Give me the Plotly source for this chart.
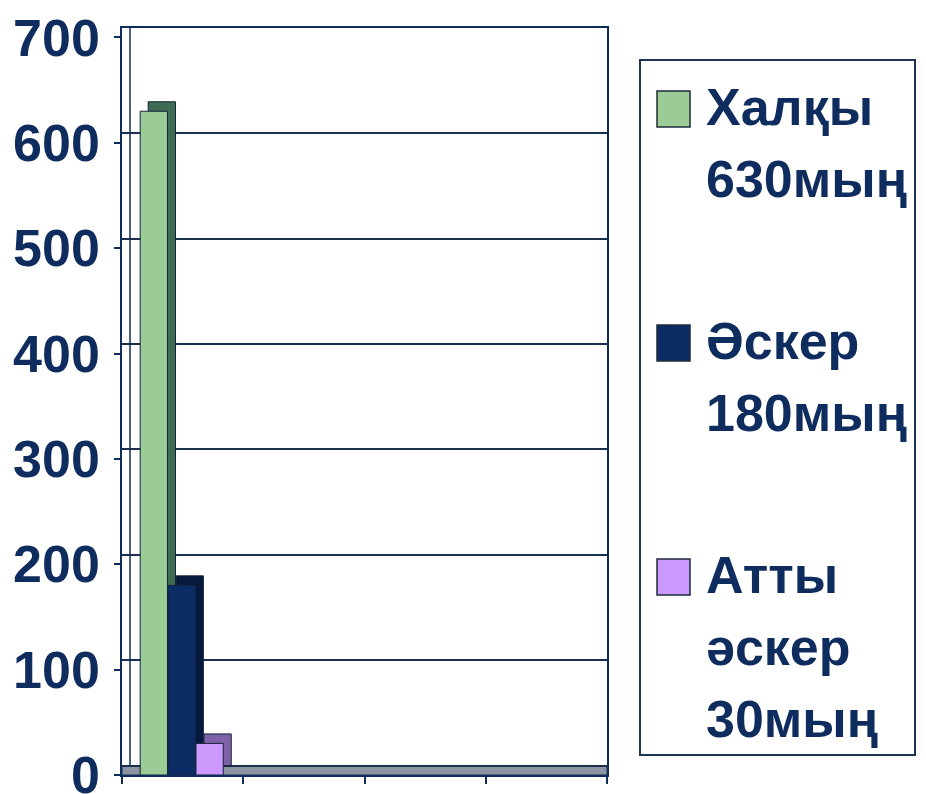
import plotly.graph_objects as go

# ---- data ----
series_names = ["Халқы 630мың", "Әскер 180мың", "Атты әскер 30мың"]
legend_lines = [["Халқы", "630мың"], ["Әскер", "180мың"], ["Атты", "әскер", "30мың"]]
series_values = [630, 180, 30]
y_ticks = [0, 100, 200, 300, 400, 500, 600, 700]
category_slots = [0, 1, 2, 3, 4]

# ---- styles ----
front_colors = ["#9CCC96", "#0C2C66", "#CC99FF"]
side_colors = ["#3E6B52", "#061A3E", "#7E62A8"]
navy = "#0F2C5E"
font_family = "Liberation Sans Narrow, Arial Narrow, Liberation Sans, Arial, sans-serif"

PAGE_OFF = 8                      # browser body margin
W, H = 926 - PAGE_OFF, 794 - PAGE_OFF
# plot area edges in screenshot pixels
L, RE, T, BE = 122, 607, 28, 775
depth_y = 9.0      # depth in y units
depth_x = 0.066    # depth in x units
bar_w = 0.225
pitch = 0.23
first_off = -0.35
ymax = y_ticks[-1] + depth_y


def pxx(x):
    return (x - L) / (RE - L)


def pyy(y):
    return (BE - y) / (BE - T)


fig = go.Figure()

# depth (side/top) faces drawn first
for i, (name, v) in enumerate(zip(series_names, series_values)):
    fig.add_trace(go.Bar(
        x=[0.5], y=[v], base=[depth_y], width=[bar_w],
        offset=first_off + i * pitch + depth_x,
        marker=dict(color=side_colors[i], line=dict(color="#13233A", width=1)),
        showlegend=False, hoverinfo="skip", xaxis="x", yaxis="y",
    ))
# front faces
for i, (name, v) in enumerate(zip(series_names, series_values)):
    fig.add_trace(go.Bar(
        x=[0.5], y=[v], width=[bar_w], name=name,
        offset=first_off + i * pitch,
        marker=dict(color=front_colors[i], line=dict(color="#13233A", width=1)),
        showlegend=False, xaxis="x", yaxis="y",
    ))

# invisible trace to activate back-wall grid axis
fig.add_trace(go.Scatter(x=[None], y=[None], xaxis="x", yaxis="y2",
                         showlegend=False, hoverinfo="skip"))

shapes = []
# floor band
shapes.append(dict(type="rect", xref="x", yref="y", x0=0, x1=category_slots[-1],
                   y0=0, y1=depth_y, fillcolor="#8A94A3",
                   line=dict(color="#1C2B44", width=1), layer="below"))
# back wall left edge
shapes.append(dict(type="line", xref="x", yref="y", x0=depth_x, x1=depth_x,
                   y0=depth_y, y1=ymax, line=dict(color=navy, width=1.5)))

# manual legend
shapes.append(dict(type="rect", xref="paper", yref="paper",
                   x0=pxx(640), x1=pxx(915), y0=pyy(755), y1=pyy(60),
                   line=dict(color="#1F3553", width=2), fillcolor="white",
                   layer="below"))
annotations = []
for i, lines in enumerate(legend_lines):
    yc = 109 + 234 * i
    shapes.append(dict(type="rect", xref="paper", yref="paper",
                       x0=pxx(657), x1=pxx(690), y0=pyy(yc + 18), y1=pyy(yc - 18),
                       fillcolor=front_colors[i], line=dict(color="#1C2B3A", width=1.5)))
    for j, txt in enumerate(lines):
        annotations.append(dict(
            text=txt, xref="paper", yref="paper", x=pxx(704), y=pyy(yc + 72 * j - 2),
            xanchor="left", yanchor="middle", showarrow=False,
            font=dict(family=font_family, size=52, color=navy, weight="bold"),
        ))

fig.update_layout(
    width=W, height=H,
    margin=dict(l=L - PAGE_OFF, r=W - (RE - PAGE_OFF), t=T - PAGE_OFF,
                b=H - (BE - PAGE_OFF), pad=0, autoexpand=False),
    paper_bgcolor="white", plot_bgcolor="white",
    barmode="overlay",
    showlegend=False,
    shapes=shapes, annotations=annotations,
    xaxis=dict(range=[category_slots[0], category_slots[-1]], tickvals=category_slots,
               showticklabels=False, ticks="outside", ticklen=7, tickcolor=navy,
               tickwidth=1.5, showgrid=False, zeroline=False, showline=True,
               linecolor=navy, linewidth=1.5, mirror=True, fixedrange=True,
               automargin=False),
    yaxis=dict(range=[0, ymax], tickvals=y_ticks, ticks="outside", ticklen=6,
               tickcolor=navy, tickwidth=1.5, showgrid=False, zeroline=False,
               showline=True, linecolor=navy, linewidth=1.5, mirror=True,
               ticklabelstandoff=4, automargin=False, ticklabeloverflow="allow",
               tickfont=dict(family=font_family, size=52, color=navy, weight="bold")),
    yaxis2=dict(range=[-depth_y, y_ticks[-1]], overlaying="y", tickvals=y_ticks,
                showticklabels=False, ticks="", showgrid=True, gridcolor="#1B2F4E",
                gridwidth=1.5, zeroline=False, showline=False, automargin=False),
)

fig.write_html("out.html")
